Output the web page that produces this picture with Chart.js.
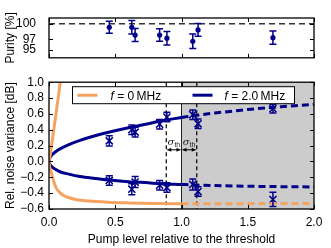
<!DOCTYPE html>
<html><head><meta charset="utf-8">
<script src="https://cdn.jsdelivr.net/npm/chart.js@4.4.0/dist/chart.umd.min.js"></script>
<style>
html,body{margin:0;padding:0;background:#fff;}
#wrap{position:relative;width:331px;height:248px;overflow:hidden;}
#c1{position:absolute;left:0;top:0;}
#c2{position:absolute;left:0;top:70px;}
</style></head><body>
<div id="wrap">
<canvas id="c1" width="331" height="70"></canvas>
<canvas id="c2" width="331" height="178"></canvas>
</div>
<script>
// ---------------- data ----------------
const pumpX = [0.455, 0.625, 0.65, 0.835, 0.89, 1.085, 1.125, 1.69];
const purity = [99.3, 99.3, 97.8, 97.8, 97.2, 96.6, 98.8, 97.3];
const purityErr = [1.15, 1.3, 1.25, 1.2, 1.3, 1.4, 1.25, 1.3];
const noiseUpper = [0.26, 0.40, 0.37, 0.47, 0.56, 0.59, 0.475, 0.665];
const noiseUpperErr = [0.065, 0.06, 0.06, 0.06, 0.06, 0.06, 0.06, 0.055];
const noiseLower = [-0.24, -0.35, -0.26, -0.30, -0.33, -0.29, -0.38, -0.48];
const noiseLowerErr = [0.06, 0.07, 0.07, 0.06, 0.06, 0.07, 0.06, 0.09];

const modelXBelow = [0, 0.005, 0.01, 0.02, 0.03, 0.05, 0.083, 0.15, 0.234, 0.347, 0.45, 0.6, 0.75, 0.84, 1.0];
const blueUpperBelow = [0, 0.04, 0.055, 0.078, 0.095, 0.123, 0.158, 0.213, 0.266, 0.324, 0.369, 0.426, 0.476, 0.51, 0.555];
const blueLowerBelow = [0, -0.03, -0.045, -0.065, -0.08, -0.10, -0.13, -0.16, -0.19, -0.215, -0.235, -0.255, -0.27, -0.28, -0.29];
const modelXAbove = [1.0, 1.1, 1.25, 1.5, 1.75, 2.0];
const blueUpperAbove = [0.555, 0.58, 0.61, 0.655, 0.69, 0.72];
const blueLowerAbove = [-0.29, -0.297, -0.305, -0.313, -0.318, -0.322];

const orangeUpperX = [0, 0.004, 0.008, 0.015, 0.025, 0.04, 0.058, 0.075, 0.09, 0.1];
const orangeUpper = [0, 0.035, 0.068, 0.15, 0.266, 0.45, 0.665, 0.87, 1.08, 1.2];
const orangeLowerX = [0, 0.005, 0.015, 0.03, 0.053, 0.08, 0.11, 0.146, 0.2, 0.3, 0.45, 0.6, 0.8, 1.0];
const orangeLower = [0, -0.07, -0.13, -0.22, -0.33, -0.39, -0.43, -0.455, -0.48, -0.5, -0.515, -0.523, -0.53, -0.535];
const orangeAboveX = [1.0, 1.5, 2.0];
const orangeAbove = [-0.535, -0.532, -0.53];

const xTicks = [0, 0.5, 1.0, 1.5, 2.0];
const purityTicks = [95, 97, 100];
const noiseTicks = [-0.6, -0.4, -0.2, 0, 0.2, 0.4, 0.6, 0.8, 1.0];
const thresholdLow = 0.885, threshold = 1.0, thresholdHigh = 1.115;
const sigmaArrowY = 0.147;
const legendLabels = ['0\u2009MHz', '2.0\u2009MHz'];

// ---------------- style ----------------
const NAVY = '#00008a';
const ORANGE = '#f4a460';
const FONT = '"Liberation Sans", Arial, sans-serif';
Chart.defaults.font.family = FONT;
Chart.defaults.font.size = 12;
Chart.defaults.color = '#000';
Chart.defaults.animation = false;

const zip = (xs, ys) => xs.map((x, i) => ({x: x, y: ys[i]}));
const fmt = v => (Math.abs(v) < 1e-9 ? '0.0' : v.toFixed(1)).replace('-', '\u2212');

const errorBars = {
  id: 'errorBars',
  afterDatasetsDraw(chart) {
    const ctx = chart.ctx, xs = chart.scales.x, ys = chart.scales.y;
    chart.data.datasets.forEach(ds => {
      if (!ds.errors) return;
      ctx.save();
      ctx.strokeStyle = ds.borderColor;
      ctx.lineWidth = 1.5;
      ds.data.forEach((p, i) => {
        const px = xs.getPixelForValue(p.x);
        const y1 = ys.getPixelForValue(p.y - ds.errors[i]);
        const y2 = ys.getPixelForValue(p.y + ds.errors[i]);
        ctx.beginPath();
        ctx.moveTo(px, y1); ctx.lineTo(px, y2);
        ctx.moveTo(px - ds.cap, y1); ctx.lineTo(px + ds.cap, y1);
        ctx.moveTo(px - ds.cap, y2); ctx.lineTo(px + ds.cap, y2);
        ctx.stroke();
      });
      ctx.restore();
    });
  }
};

const frame = {
  id: 'frame',
  afterDraw(chart, args, opts) {
    const ctx = chart.ctx, a = chart.chartArea, xs = chart.scales.x, ys = chart.scales.y;
    ctx.save();
    ctx.strokeStyle = '#000';
    ctx.lineWidth = 1;
    const L = 4;
    ctx.beginPath();
    opts.xt.forEach(v => {
      const px = Math.round(xs.getPixelForValue(v)) + 0.5;
      ctx.moveTo(px, a.top); ctx.lineTo(px, a.top + L);
      ctx.moveTo(px, a.bottom); ctx.lineTo(px, a.bottom - L);
    });
    opts.yt.forEach(v => {
      const py = Math.round(ys.getPixelForValue(v)) + 0.5;
      ctx.moveTo(a.left, py); ctx.lineTo(a.left + L, py);
      ctx.moveTo(a.right, py); ctx.lineTo(a.right - L, py);
    });
    ctx.stroke();
    ctx.lineWidth = 1.3;
    ctx.strokeRect(a.left, a.top, a.right - a.left, a.bottom - a.top);
    ctx.restore();
  }
};

function arrowHead(ctx, x, y, dir) {
  ctx.beginPath();
  ctx.moveTo(x, y);
  ctx.lineTo(x - dir * 4, y - 2);
  ctx.lineTo(x - dir * 4, y + 2);
  ctx.closePath();
  ctx.fill();
}

const background = {
  id: 'background',
  beforeDatasetsDraw(chart) {
    const ctx = chart.ctx, a = chart.chartArea, xs = chart.scales.x, ys = chart.scales.y;
    const x1 = xs.getPixelForValue(threshold), x2 = xs.getPixelForValue(2.0);
    ctx.save();
    ctx.fillStyle = '#cccccc';
    ctx.fillRect(x1, a.top, x2 - x1, a.bottom - a.top);
    ctx.strokeStyle = '#222';
    ctx.lineWidth = 1;
    ctx.beginPath(); ctx.moveTo(x1, a.top); ctx.lineTo(x1, a.bottom); ctx.stroke();
    ctx.strokeStyle = '#000';
    ctx.lineWidth = 1.2;
    ctx.setLineDash([4, 3]);
    [thresholdLow, thresholdHigh].forEach(v => {
      const px = xs.getPixelForValue(v);
      ctx.beginPath(); ctx.moveTo(px, a.top); ctx.lineTo(px, a.bottom); ctx.stroke();
    });
    ctx.setLineDash([]);
    // sigma arrows
    const py = ys.getPixelForValue(sigmaArrowY);
    const xl = xs.getPixelForValue(thresholdLow), xc = xs.getPixelForValue(threshold), xr = xs.getPixelForValue(thresholdHigh);
    ctx.fillStyle = '#000';
    ctx.lineWidth = 1;
    ctx.beginPath();
    ctx.moveTo(xl + 1, py); ctx.lineTo(xc - 1, py);
    ctx.moveTo(xc + 1, py); ctx.lineTo(xr - 1, py);
    ctx.stroke();
    arrowHead(ctx, xl + 1, py, -1); arrowHead(ctx, xc - 1, py, 1);
    arrowHead(ctx, xc + 1, py, -1); arrowHead(ctx, xr - 1, py, 1);
    // labels
    const labY = py - 7;
    [(xl + xc) / 2, (xc + xr) / 2].forEach(cx => {
      ctx.font = 'italic 10px "DejaVu Serif", serif';
      const w1 = ctx.measureText('\u03c3').width;
      ctx.font = '7px ' + FONT;
      const w2 = ctx.measureText('th').width;
      const start = cx - (w1 + w2) / 2;
      ctx.textBaseline = 'alphabetic';
      ctx.textAlign = 'left';
      ctx.font = 'italic 10px "DejaVu Serif", serif';
      ctx.fillStyle = '#222';
      ctx.fillText('\u03c3', start, labY + 2);
      ctx.font = '7px ' + FONT;
      ctx.fillText('th', start + w1, labY + 4);
    });
    ctx.restore();
  }
};

const legendBox = {
  id: 'legendBox',
  afterDatasetsDraw(chart) {
    const ctx = chart.ctx, a = chart.chartArea;
    const left = a.left + 23.5, top = a.top + 4.5, w = 222, h = 17;
    ctx.save();
    ctx.fillStyle = '#fff';
    ctx.fillRect(left, top, w, h);
    ctx.strokeStyle = '#000';
    ctx.lineWidth = 1;
    ctx.strokeRect(left, top, w, h);
    const cy = top + h / 2;
    const items = [
      {color: ORANGE, x0: left + 5, x1: left + 25, tx: left + 38, text: legendLabels[0]},
      {color: NAVY, x0: left + 120, x1: left + 140, tx: left + 152, text: legendLabels[1]}
    ];
    items.forEach(it => {
      ctx.strokeStyle = it.color;
      ctx.lineWidth = 3;
      ctx.beginPath(); ctx.moveTo(it.x0, cy); ctx.lineTo(it.x1, cy); ctx.stroke();
      ctx.fillStyle = '#000';
      ctx.textBaseline = 'middle';
      ctx.textAlign = 'left';
      ctx.font = 'italic 12px ' + FONT;
      ctx.fillText('f', it.tx, cy + 1);
      const wf = ctx.measureText('f').width;
      ctx.font = '12px ' + FONT;
      ctx.fillText(' = ' + it.text, it.tx + wf, cy + 1);
    });
    ctx.restore();
  }
};

// ---------------- top chart ----------------
new Chart(document.getElementById('c1'), {
  type: 'scatter',
  data: {
    datasets: [
      {data: [{x: 0, y: 100}, {x: 2, y: 100}], showLine: true, borderColor: '#333', borderWidth: 1.5,
       borderDash: [6, 4], pointRadius: 0},
      {data: zip(pumpX, purity), errors: purityErr, cap: 3.5, backgroundColor: NAVY, borderColor: NAVY,
       pointRadius: 2.6, pointStyle: 'circle', borderWidth: 0}
    ]
  },
  options: {
    responsive: false,
    devicePixelRatio: 1,
    layout: {padding: {left: 0, right: 17, top: 18, bottom: 7}},
    plugins: {legend: {display: false}, tooltip: {enabled: false},
              frame: {xt: xTicks, yt: purityTicks}},
    scales: {
      x: {type: 'linear', min: 0, max: 2, display: false},
      y: {type: 'linear', min: 93.4, max: 101.1,
          afterBuildTicks: s => { s.ticks = purityTicks.map(v => ({value: v})); },
          afterFit: s => { s.width = 49; },
          grid: {display: false}, border: {display: false},
          ticks: {padding: 5, callback: v => String(v)},
          title: {display: true, text: 'Purity [%]', padding: {top: 3, bottom: 0}}}
    }
  },
  plugins: [errorBars, frame]
});

// ---------------- bottom chart ----------------
const lineDs = (xs, ys, color, dash) => ({
  data: zip(xs, ys), showLine: true, borderColor: color, borderWidth: 3, pointRadius: 0,
  borderDash: dash || [], cubicInterpolationMode: 'monotone'
});
new Chart(document.getElementById('c2'), {
  type: 'scatter',
  data: {
    datasets: [
      lineDs(orangeUpperX, orangeUpper, ORANGE),
      lineDs(orangeLowerX, orangeLower, ORANGE),
      lineDs(orangeAboveX, orangeAbove, ORANGE, [7, 4]),
      lineDs(modelXBelow, blueUpperBelow, NAVY),
      lineDs(modelXBelow, blueLowerBelow, NAVY),
      lineDs(modelXAbove, blueUpperAbove, NAVY, [7, 4]),
      lineDs(modelXAbove, blueLowerAbove, NAVY, [7, 4]),
      {data: zip(pumpX, noiseUpper), errors: noiseUpperErr, cap: 3.5, borderColor: NAVY,
       pointStyle: 'crossRot', pointRadius: 5, borderWidth: 1.6},
      {data: zip(pumpX, noiseLower), errors: noiseLowerErr, cap: 3.5, borderColor: NAVY,
       pointStyle: 'crossRot', pointRadius: 5, borderWidth: 1.6}
    ]
  },
  options: {
    responsive: false,
    devicePixelRatio: 1,
    layout: {padding: {left: 0, right: 17, top: 5, bottom: 0}},
    plugins: {legend: {display: false}, tooltip: {enabled: false},
              frame: {xt: xTicks, yt: noiseTicks}},
    scales: {
      x: {type: 'linear', min: 0, max: 2,
          afterBuildTicks: s => { s.ticks = xTicks.map(v => ({value: v})); },
          afterFit: s => { s.height = 39; },
          grid: {display: false, drawTicks: false}, border: {display: false},
          ticks: {padding: 6, maxRotation: 0, autoSkip: false, callback: v => fmt(v)},
          title: {display: true, text: 'Pump level relative to the threshold', padding: {top: 0, bottom: 1}}},
      y: {type: 'linear', min: -0.6, max: 1.0,
          afterBuildTicks: s => { s.ticks = noiseTicks.map(v => ({value: v})); },
          afterFit: s => { s.width = 49; },
          grid: {display: false, drawTicks: false}, border: {display: false},
          ticks: {padding: 5, autoSkip: false, callback: v => fmt(v)},
          title: {display: true, text: 'Rel. noise variance [dB]', padding: {top: 3, bottom: 0}}}
    }
  },
  plugins: [background, errorBars, legendBox, frame]
});
</script>
</body></html>
